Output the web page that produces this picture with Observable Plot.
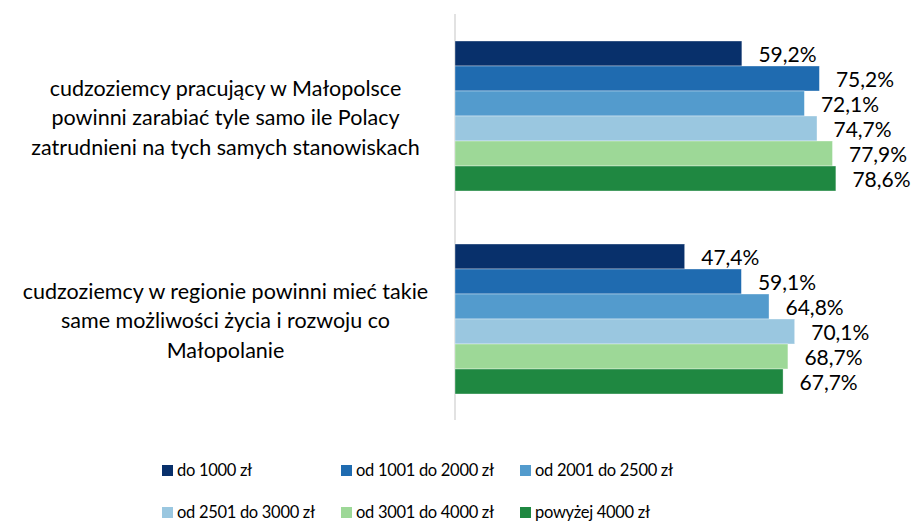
<!DOCTYPE html>
<html>
<head>
<meta charset="utf-8">
<script src="https://cdn.jsdelivr.net/npm/d3@7"></script>
<script src="https://cdn.jsdelivr.net/npm/@observablehq/plot@0.6"></script>
<style>
  html, body { margin: 0; padding: 0; background: #fff; }
  body { width: 911px; height: 524px; overflow: hidden; font-family: Lato, "Open Sans", sans-serif; color: #000; }
  #legend { display: grid; grid-template-columns: repeat(3, 179px); grid-auto-rows: 42px; padding-left: 162px; padding-top: 19px; }
  .item { display: flex; align-items: center; font-size: 16.5px; letter-spacing: -0.3px; white-space: nowrap; }
  .sw { width: 11px; height: 11px; margin-right: 4px; flex: none; }
</style>
</head>
<body>
<div id="chart"></div>
<div id="legend"></div>
<script>
const groups = [
  "cudzoziemcy pracujący w Małopolsce\npowinni zarabiać tyle samo ile Polacy\nzatrudnieni na tych samych stanowiskach",
  "cudzoziemcy w regionie powinni mieć takie\nsame możliwości życia i rozwoju co\nMałopolanie"
];
const series = ["do 1000 zł", "od 1001 do 2000 zł", "od 2001 do 2500 zł", "od 2501 do 3000 zł", "od 3001 do 4000 zł", "powyżej 4000 zł"];
const colors = ["#08306b", "#1f6bb0", "#539bcd", "#9ac7e0", "#9dd897", "#1f8841"];
const valuesGroup1 = [59.2, 75.2, 72.1, 74.7, 77.9, 78.6];
const valuesGroup2 = [47.4, 59.1, 64.8, 70.1, 68.7, 67.7];

const data = [];
[valuesGroup1, valuesGroup2].forEach((vals, gi) => {
  vals.forEach((v, si) => data.push({group: groups[gi], series: series[si], value: v}));
});
const fmt = v => v.toFixed(1).replace(".", ",") + "%";

const chart = Plot.plot({
  width: 911,
  height: 430,
  marginLeft: 455,
  marginRight: 0,
  marginTop: 14,
  marginBottom: 10,
  style: {fontFamily: "Lato, 'Open Sans', sans-serif", color: "#000", background: "#fff"},
  x: {domain: [0, 94.1], axis: null},
  y: {domain: series, axis: null, paddingInner: 0, paddingOuter: 0.93},
  fy: {domain: groups, axis: null, padding: 0},
  color: {domain: series, range: colors},
  marks: [
    Plot.ruleX([0], {stroke: "#d9d9d9", strokeWidth: 1.5, dx: -0.5}),
    Plot.barX(data, {x: "value", y: "series", fy: "group", fill: "series", stroke: "#ffffff", strokeWidth: 0.6, strokeOpacity: 0.6}),
    Plot.text(data, {x: "value", y: "series", fy: "group", text: d => fmt(d.value), textAnchor: "start", dx: 16, dy: 1, fontSize: 21, fill: "#000"}),
    Plot.text(groups, {fy: d => d, text: d => d, frameAnchor: "left", dx: -230, textAnchor: "middle", fontSize: 21.5, lineHeight: 29.5 / 21.5, fill: "#000"})
  ]
});
document.getElementById("chart").appendChild(chart);

const legend = document.getElementById("legend");
series.forEach((s, i) => {
  const item = document.createElement("div");
  item.className = "item";
  const sw = document.createElement("span");
  sw.className = "sw";
  sw.style.background = colors[i];
  const label = document.createElement("span");
  label.textContent = s;
  item.appendChild(sw);
  item.appendChild(label);
  legend.appendChild(item);
});
</script>
</body>
</html>
